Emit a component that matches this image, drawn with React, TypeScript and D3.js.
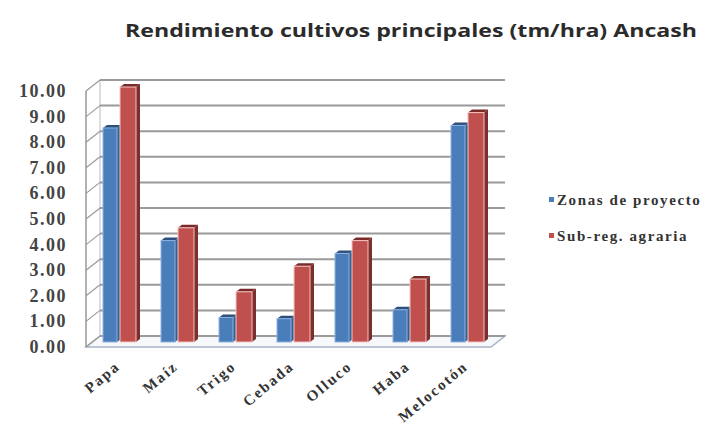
import React from "react";
import * as d3 from "d3";

const categories = ["Papa", "Maíz", "Trigo", "Cebada", "Olluco", "Haba", "Melocotón"];
const zonas = [8.4, 4.0, 1.0, 0.95, 3.5, 1.3, 8.5];
const subreg = [10.0, 4.5, 2.0, 3.0, 4.0, 2.5, 9.0];
const yTicks = [0, 1, 2, 3, 4, 5, 6, 7, 8, 9, 10];
const seriesNames = ["Zonas de proyecto", "Sub-reg. agraria"];

export default function App() {
  const W = 707, H = 426;
  const depthX = 14, depthY = -11;
  const frontLeft = 86, frontRight = 491;
  const yFront = d3.scaleLinear().domain([0, 10]).range([347, 91]);
  const yBack = (v: number) => yFront(v) + depthY;
  const yMid = (v: number) => yFront(v) - 5;
  const yBar = (v: number) => yFront(v) - 4;
  const x = d3.scaleBand().domain(categories).range([91, 497]).paddingInner(0).paddingOuter(0);
  const bw = x.bandwidth();

  const blue = { front: "#4a7ebb", side: "#345f93", top: "#2c4f7c", edge: "#8fb1df" };
  const red = { front: "#c0504d", side: "#7d2f2d", top: "#7a2a28", edge: "#f4c3c1" };

  const bar = (cx: number, w: number, v: number, c: typeof blue, key: string) => {
    const y0 = yMid(0);
    const y1 = yBar(v);
    const sd = 4, sy = -3;
    return (
      <g key={key}>
        <polygon points={`${cx + w},${y1} ${cx + w + sd},${y1 + sy} ${cx + w + sd},${y0 + sy} ${cx + w},${y0}`} fill={c.side} />
        <polygon points={`${cx},${y1} ${cx + sd},${y1 + sy} ${cx + w + sd},${y1 + sy} ${cx + w},${y1}`} fill={c.top} />
        <rect x={cx} y={y1} width={w} height={y0 - y1} fill={c.front} stroke={c.edge} strokeWidth={1} />
      </g>
    );
  };

  return (
    <svg width={W} height={H} style={{ position: "absolute", left: 0, top: 0, background: "#fff" }}>
      <rect x={0} y={0} width={W} height={H} fill="#fff" />
      <text x={125} y={37} fontFamily="'Open Sans', sans-serif" fontSize={17} fontWeight={700} fill="#2b2b2b" textLength={572} lengthAdjust="spacingAndGlyphs">
        Rendimiento cultivos principales (tm/hra) Ancash
      </text>
      {/* floor */}
      <polygon points={`${frontLeft},${yFront(0)} ${frontRight},${yFront(0)} ${frontRight + depthX},${yBack(0)} ${frontLeft + depthX},${yBack(0)}`} fill="#f7f8fb" stroke="#a9b4c8" strokeWidth={1.5} />
      {/* left wall */}
      <line x1={frontLeft} x2={frontLeft} y1={yFront(0)} y2={yFront(10)} stroke="#999" strokeWidth={1.5} />
      <line x1={frontLeft + depthX} x2={frontLeft + depthX} y1={yBack(0)} y2={yBack(10)} stroke="#bbb" strokeWidth={1} />
      {yTicks.map((t) => (
        <g key={t}>
          <line x1={frontLeft} y1={yFront(t)} x2={frontLeft + depthX} y2={yBack(t)} stroke="#999" strokeWidth={1.2} />
          <line x1={frontLeft + depthX} y1={yBack(t)} x2={frontRight + depthX} y2={yBack(t)} stroke="#9a9a9a" strokeWidth={2} />
          <text x={67} y={yFront(t) + 6} textAnchor="end" fontFamily="'Liberation Serif', serif" fontWeight="bold" fontSize={18} letterSpacing={1.5} fill="#444">
            {t.toFixed(2)}
          </text>
        </g>
      ))}
      {/* bars */}
      {categories.map((c, i) => {
        const bx = x(c)! + 12;
        return (
          <g key={c}>
            {bar(bx, 14, zonas[i], blue, c + "b")}
            {bar(bx + 17, 16, subreg[i], red, c + "r")}
          </g>
        );
      })}
      {/* x labels */}
      {categories.map((c) => {
        const cx = x(c)! + bw / 2 + 1;
        return (
          <text key={c} transform={`translate(${cx},${368}) rotate(-40)`} textAnchor="end" fontFamily="'Liberation Serif', serif" fontWeight="bold" fontSize={15} letterSpacing={2} fill="#333">
            {c}
          </text>
        );
      })}
      {/* legend */}
      {seriesNames.map((s, i) => (
        <g key={s}>
          <rect x={549} y={197 + i * 36} width={5} height={5} fill={i === 0 ? blue.front : red.front} />
          <text x={557} y={205 + i * 36} fontFamily="'Liberation Serif', serif" fontWeight="bold" fontSize={15} letterSpacing={1.6} fill="#333">
            {s}
          </text>
        </g>
      ))}
    </svg>
  );
}
